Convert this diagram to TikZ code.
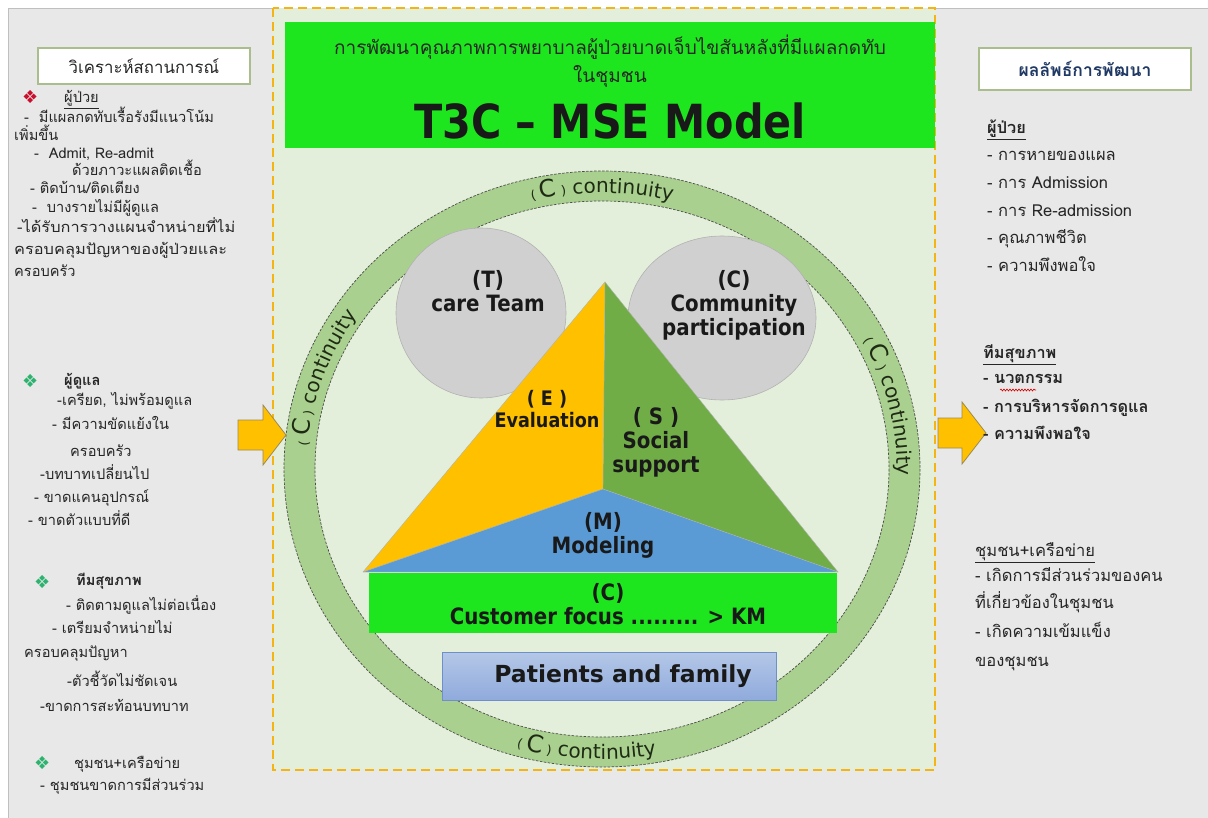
\documentclass[tikz,border=0pt]{standalone}
\usepackage{fontspec}
\usetikzlibrary{shapes.geometric,decorations.text,decorations.pathmorphing}
\setmainfont{DejaVu Sans}
\newfontfamily\thai[Script=Thai]{Loma}
\newfontfamily\tah[FakeStretch=0.88]{DejaVu Sans}
\newcommand\ringsmall{\fontsize{13}{13}\selectfont}
\newcommand\ringbig{\fontsize{24}{24}\selectfont}
\newcommand\ringfont{\fontsize{20}{20}\selectfont}

\definecolor{pagegrey}{HTML}{E8E8E8}
\definecolor{panelgreen}{HTML}{E3EFDB}
\definecolor{dashorange}{HTML}{F4B514}
\definecolor{titlegreen}{HTML}{1EE61E}
\definecolor{ringgreen}{HTML}{A9D08E}
\definecolor{circgrey}{HTML}{D0D0D0}
\definecolor{triyellow}{HTML}{FFC000}
\definecolor{trigreen}{HTML}{70AD47}
\definecolor{triblue}{HTML}{5B9BD5}
\definecolor{pftop}{HTML}{B4C7E7}
\definecolor{pfbottom}{HTML}{8FAADC}
\definecolor{pfedge}{HTML}{6F8FC9}
\definecolor{arrowedge}{HTML}{9C8A55}
\definecolor{headgreen}{HTML}{A9BE8C}
\definecolor{headblue}{HTML}{1F3864}
\definecolor{bulletred}{HTML}{C8102E}
\definecolor{bulletgreen}{HTML}{2DB36F}
\definecolor{ringtext}{HTML}{1E2A14}

\tikzset{
  lefttext/.style={anchor=base west, inner sep=0, font=\thai\fontsize{14.6}{17}\selectfont, text=black!85},
  leftbold/.style={lefttext, font=\thai\bfseries\fontsize{14.6}{17}\selectfont},
  righttext/.style={anchor=base west, inner sep=0, font=\thai\fontsize{16.5}{19}\selectfont, text=black!85},
  rightbold/.style={righttext, font=\thai\bfseries\fontsize{16.3}{19}\selectfont},
  bulletmark/.style={anchor=base west, inner sep=0, font=\fontsize{18}{18}\selectfont},
  headbox/.style={draw=headgreen, line width=1.2pt, fill=white, minimum width=212, inner sep=0},
  bubble/.style={fill=circgrey, draw=gray!60, line width=0.6pt},
  modellabel/.style={align=center, font=\tah\bfseries\fontsize{22.5}{24}\selectfont, text=black!90, inner sep=0},
  ringedge/.style={draw=black!70, dash pattern=on 2.5pt off 1.5pt, line width=0.7pt},
  blockarrow/.style={fill=triyellow, draw=arrowedge, line width=0.8pt, line join=miter},
  ringlabel/.style={decorate, decoration={text along path, text align=center, text color=ringtext,
    text={|\ringsmall|( |\ringbig|C|\ringsmall| )|\ringfont| continuity}}},
}

\begin{document}
\begin{tikzpicture}[x=1pt,y=-1pt]
\useasboundingbox (0,0) rectangle (1208,818);
\fill[white] (0,0) rectangle (1208,818);
\draw[fill=pagegrey, draw=gray!50] (8,8) rectangle (1212,822);

% central panel
\draw[fill=panelgreen, draw=dashorange, line width=2.6pt, dash pattern=on 9pt off 5pt] (273,8) rectangle (935,770);

% title block
\node[fill=titlegreen, minimum width=650, minimum height=126, anchor=north west, inner sep=0] (titlebox) at (285,22) {};
\node[font=\thai\fontsize{19}{22}\selectfont, text=black!85] (title1) at (610,47) {การพัฒนาคุณภาพการพยาบาลผู้ป่วยบาดเจ็บไขสันหลังที่มีแผลกดทับ};
\node[font=\thai\fontsize{19}{22}\selectfont, text=black!85] (title2) at (610,76) {ในชุมชน};
\node[font=\tah\bfseries\fontsize{47}{47}\selectfont, text=black!90] (title3) at (610,121) {T3C – MSE Model};

% continuity ring
\coordinate (rc) at (602,469);
\fill[ringgreen, even odd rule] (rc) ellipse [x radius=318, y radius=298] (rc) ellipse [x radius=287, y radius=268];
\draw[ringedge] (rc) ellipse [x radius=318, y radius=298];
\draw[ringedge] (rc) ellipse [x radius=287, y radius=268];

\path[ringlabel] (rc) ++(-125:295 and 276) arc [start angle=-125, end angle=-55, x radius=295, y radius=276];
\path[ringlabel] (rc) ++(-196:295 and 276) arc [start angle=-196, end angle=-126, x radius=295, y radius=276];
\path[ringlabel] (rc) ++(-48:295 and 276) arc [start angle=-48, end angle=22, x radius=295, y radius=276];
\path[ringlabel] (rc) ++(-232:310 and 290) arc [start angle=-232, end angle=-302, x radius=310, y radius=290];

% bubbles
\node[bubble, circle, minimum size=170, inner sep=0] (team) at (481,313) {};
\node[bubble, ellipse, minimum width=188, minimum height=164, inner sep=0] (comm) at (722,318) {};
\node[modellabel] (teamlabel) at (488,291) {(T)\\care Team};
\node[modellabel] (commlabel) at (734,305) {(C)\\Community\\participation};

% pyramid
\coordinate (apex) at (605,282);
\coordinate (bl) at (363,572);
\coordinate (br) at (838,572);
\coordinate (mid) at (603,489);
\fill[triyellow] (apex) -- (mid) -- (bl) -- cycle;
\fill[trigreen] (apex) -- (br) -- (mid) -- cycle;
\fill[triblue] (bl) -- (mid) -- (br) -- cycle;
\draw[gray!60, line width=0.4pt] (apex) -- (bl) -- (br) -- cycle (apex) -- (mid) (bl) -- (mid) -- (br);
\node[modellabel, font=\tah\bfseries\fontsize{20}{22}\selectfont] (evallabel) at (547,409) {( E )\\Evaluation};
\node[modellabel] (sociallabel) at (656,442) {( S )\\Social\\support};
\node[modellabel] (modellabel) at (603,535) {(M)\\Modeling};

% customer focus and patients
\node[fill=titlegreen, minimum width=468, minimum height=60, anchor=north west, inner sep=0] (custbox) at (369,573) {};
\node[modellabel] (custlabel) at (608,604) {(C)\\Customer focus ......... > KM};
\node[top color=pftop, bottom color=pfbottom, draw=pfedge, line width=0.8pt, minimum width=334, minimum height=48, anchor=north west, inner sep=0] (pfbox) at (442,652) {};
\node[font=\bfseries\fontsize{23.5}{24}\selectfont, text=black!90] (pflabel) at (623,676) {Patients and family};

% flow arrows
\draw[blockarrow] (238,420) -- (263,420) -- (263,405) -- (286,435) -- (263,465) -- (263,450) -- (238,450) -- cycle;
\draw[blockarrow] (938,418) -- (962,418) -- (962,402) -- (986,433) -- (962,464) -- (962,448) -- (938,448) -- cycle;

% situation analysis column
\node[headbox, minimum height=36] (lhead) at (144,66) {};
\node[font=\thai\fontsize{16.8}{19}\selectfont, text=black!85] (lheadtext) at (144,66) {วิเคราะห์สถานการณ์};

\node[bulletmark, text=bulletred] (b1) at (22,104) {❖};
\node[lefttext] (l1) at (64,103) {\underline{ผู้ป่วย}};
\node[lefttext] (l2) at (24,123) {-\ \ มีแผลกดทับเรื้อรังมีแนวโน้ม};
\node[lefttext] (l3) at (14,141) {เพิ่มขึ้น};
\node[lefttext] (l4) at (34,159) {-\ \ Admit, Re-admit};
\node[lefttext] (l5) at (72,176) {ด้วยภาวะแผลติดเชื้อ};
\node[lefttext] (l6) at (30,194) {- ติดบ้าน/ติดเตียง};
\node[lefttext] (l7) at (32,213) {-\ \ บางรายไม่มีผู้ดูแล};
\node[lefttext] (l8) at (17,233) {\scalebox{1.12}[1]{-ได้รับการวางแผนจำหน่ายที่ไม่}};
\node[lefttext] (l9) at (14,255) {\scalebox{1.12}[1]{ครอบคลุมปัญหาของผู้ป่วยและ}};
\node[lefttext] (l10) at (14,277) {ครอบครัว};

\node[bulletmark, text=bulletgreen] (b2) at (22,388) {❖};
\node[leftbold] (c1) at (64,385) {ผู้ดูแล};
\node[lefttext] (c2) at (57,406) {-เครียด, ไม่พร้อมดูแล};
\node[lefttext] (c3) at (52,429) {- มีความขัดแย้งใน};
\node[lefttext] (c4) at (70,456) {ครอบครัว};
\node[lefttext] (c5) at (40,479) {-บทบาทเปลี่ยนไป};
\node[lefttext] (c6) at (34,502) {- ขาดแคนอุปกรณ์};
\node[lefttext] (c7) at (28,525) {- ขาดตัวแบบที่ดี};

\node[bulletmark, text=bulletgreen] (b3) at (34,588) {❖};
\node[leftbold] (h1) at (76,585) {ทีมสุขภาพ};
\node[lefttext] (h2) at (66,610) {- ติดตามดูแลไม่ต่อเนื่อง};
\node[lefttext] (h3) at (52,633) {- เตรียมจำหน่ายไม่};
\node[lefttext] (h4) at (24,657) {ครอบคลุมปัญหา};
\node[lefttext] (h5) at (67,686) {-ตัวชี้วัดไม่ชัดเจน};
\node[lefttext] (h6) at (40,711) {-ขาดการสะท้อนบทบาท};

\node[bulletmark, text=bulletgreen] (b4) at (34,769) {❖};
\node[lefttext] (n1) at (74,768) {ชุมชน+เครือข่าย};
\node[lefttext] (n2) at (40,790) {- ชุมชนขาดการมีส่วนร่วม};

% development outcome column
\node[headbox, minimum height=42] (rhead) at (1085,69) {};
\node[font=\thai\bfseries\fontsize{17.5}{20}\selectfont, text=headblue] (rheadtext) at (1085,69) {ผลลัพธ์การพัฒนา};

\node[rightbold] (r1) at (987,134) {\underline{ผู้ป่วย}};
\node[righttext] (r2) at (987,161) {- การหายของแผล};
\node[righttext] (r3) at (987,189) {- การ Admission};
\node[righttext] (r4) at (987,217) {- การ Re-admission};
\node[righttext] (r5) at (987,244) {- คุณภาพชีวิต};
\node[righttext] (r6) at (987,272) {- ความพึงพอใจ};

\node[rightbold] (t1) at (983,359) {\underline{ทีมสุขภาพ}};
\node[rightbold] (t2) at (983,384) {- นวตกรรม};
\node[rightbold] (t3) at (983,413) {- การบริหารจัดการดูแล};
\node[rightbold] (t4) at (983,439) {- ความพึงพอใจ};
\draw[red!85!black, line width=0.6pt, decorate, decoration={snake, amplitude=1pt, segment length=3pt}] (1000,390) -- (1036,390);

\node[righttext] (k1) at (975,556) {\underline{ชุมชน+เครือข่าย}};
\node[righttext] (k2) at (975,581) {- เกิดการมีส่วนร่วมของคน};
\node[righttext] (k3) at (975,608) {ที่เกี่ยวข้องในชุมชน};
\node[righttext] (k4) at (975,637) {- เกิดความเข้มแข็ง};
\node[righttext] (k5) at (975,666) {ของชุมชน};
\end{tikzpicture}
\end{document}
